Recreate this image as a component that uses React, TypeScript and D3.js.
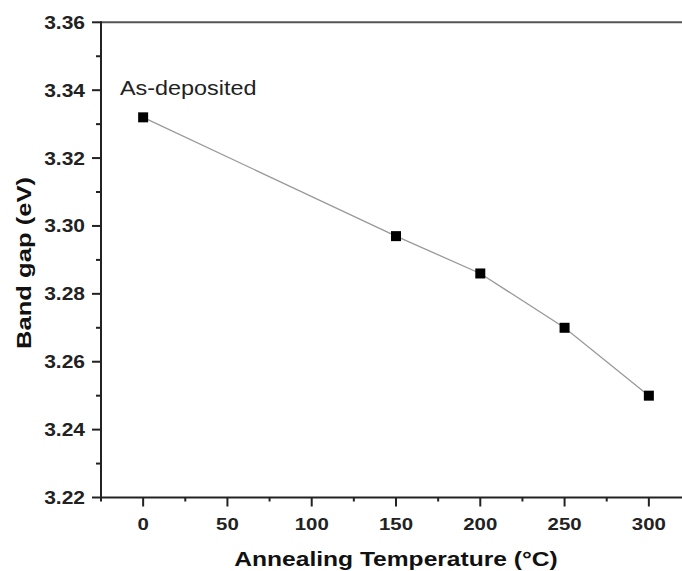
import React, { useEffect, useRef } from 'react';
import * as d3 from 'd3';

// annealing temperature (°C) and optical band gap (eV)
const temps = [0, 150, 200, 250, 300];
const gaps = [3.332, 3.297, 3.286, 3.27, 3.25];
const xMajor = [0, 50, 100, 150, 200, 250, 300];
const xMinor = [-25, 25, 75, 125, 175, 225, 275, 325];
const yMajor = [3.22, 3.24, 3.26, 3.28, 3.3, 3.32, 3.34, 3.36];
const yMinor = [3.23, 3.25, 3.27, 3.29, 3.31, 3.33, 3.35];

const App = () => {
  const ref = useRef<SVGSVGElement>(null);

  useEffect(() => {
    const svg = d3.select(ref.current);
    svg.selectAll('*').remove();

    const width = 682;
    const height = 571;
    const left = 101;
    const right = 691;
    const top = 22.3;
    const bottom = 497.5;
    const sx = 1.2; // the figure is stretched horizontally
    const font = 'Arial, "Liberation Sans", Helvetica, sans-serif';

    const x = d3.scaleLinear().domain([-25, 325]).range([left, right]);
    const y = d3.scaleLinear().domain([3.22, 3.36]).range([bottom, top]);

    svg.attr('width', width).attr('height', height);
    svg.append('rect').attr('width', width).attr('height', height).attr('fill', 'white');

    // frame
    svg.append('line').attr('x1', left).attr('x2', right).attr('y1', top).attr('y2', top)
      .attr('stroke', '#555').attr('stroke-width', 2);
    svg.append('line').attr('x1', left).attr('x2', right).attr('y1', bottom).attr('y2', bottom)
      .attr('stroke', '#222').attr('stroke-width', 2);
    svg.append('line').attr('x1', left).attr('x2', left).attr('y1', top - 1).attr('y2', bottom + 1)
      .attr('stroke', '#222').attr('stroke-width', 2);

    // x ticks
    svg.selectAll('.xmaj').data(xMajor).enter().append('line')
      .attr('x1', (d) => x(d)).attr('x2', (d) => x(d))
      .attr('y1', bottom).attr('y2', bottom + 9)
      .attr('stroke', '#222').attr('stroke-width', 2);
    svg.selectAll('.xmin').data(xMinor).enter().append('line')
      .attr('x1', (d) => x(d)).attr('x2', (d) => x(d))
      .attr('y1', bottom).attr('y2', bottom + 4)
      .attr('stroke', '#222').attr('stroke-width', 2);
    svg.selectAll('.xlab').data(xMajor).enter().append('text')
      .attr('transform', (d) => `translate(${x(d)},530) scale(${sx},1)`)
      .attr('text-anchor', 'middle')
      .style('font-family', font).style('font-size', '17px').style('font-weight', 'bold')
      .attr('fill', '#222')
      .text((d) => d);

    // y ticks
    svg.selectAll('.ymaj').data(yMajor).enter().append('line')
      .attr('x1', left - 9).attr('x2', left)
      .attr('y1', (d) => y(d)).attr('y2', (d) => y(d))
      .attr('stroke', '#222').attr('stroke-width', 2);
    svg.selectAll('.ymin').data(yMinor).enter().append('line')
      .attr('x1', left - 5).attr('x2', left)
      .attr('y1', (d) => y(d)).attr('y2', (d) => y(d))
      .attr('stroke', '#222').attr('stroke-width', 2);
    svg.selectAll('.ylab').data(yMajor).enter().append('text')
      .attr('transform', (d) => `translate(85,${y(d) + 6.5}) scale(${sx},1)`)
      .attr('text-anchor', 'end')
      .style('font-family', font).style('font-size', '17.5px').style('font-weight', 'bold')
      .attr('fill', '#222')
      .text((d) => d3.format('.2f')(d));

    // axis titles
    svg.append('text')
      .attr('transform', `translate(${(left + right) / 2},566) scale(${sx},1)`)
      .attr('text-anchor', 'middle')
      .style('font-family', font).style('font-size', '20.5px').style('font-weight', 'bold')
      .attr('fill', '#111')
      .text('Annealing Temperature (°C)');
    svg.append('text')
      .attr('transform', 'translate(30.5,263) rotate(-90) scale(1.22,1)')
      .attr('text-anchor', 'middle')
      .style('font-family', font).style('font-size', '21px').style('font-weight', 'bold')
      .attr('fill', '#111')
      .text('Band gap (eV)');

    // series
    const line = d3.line<number>()
      .x((d, i) => x(temps[i]))
      .y((d) => y(d));
    svg.append('path')
      .datum(gaps)
      .attr('d', line)
      .attr('fill', 'none')
      .attr('stroke', '#999')
      .attr('stroke-width', 1.3);

    svg.selectAll('.pt').data(gaps).enter().append('rect')
      .attr('x', (d, i) => x(temps[i]) - 5)
      .attr('y', (d) => y(d) - 5)
      .attr('width', 10).attr('height', 10)
      .attr('fill', '#000');

    // annotation
    svg.append('text')
      .attr('transform', `translate(120,95) scale(${sx},1)`)
      .style('font-family', font).style('font-size', '19.5px')
      .attr('fill', '#222')
      .text('As-deposited');
  }, []);

  return <svg ref={ref} style={{ position: 'absolute', left: 0, top: 0 }}></svg>;
};

export default App;
